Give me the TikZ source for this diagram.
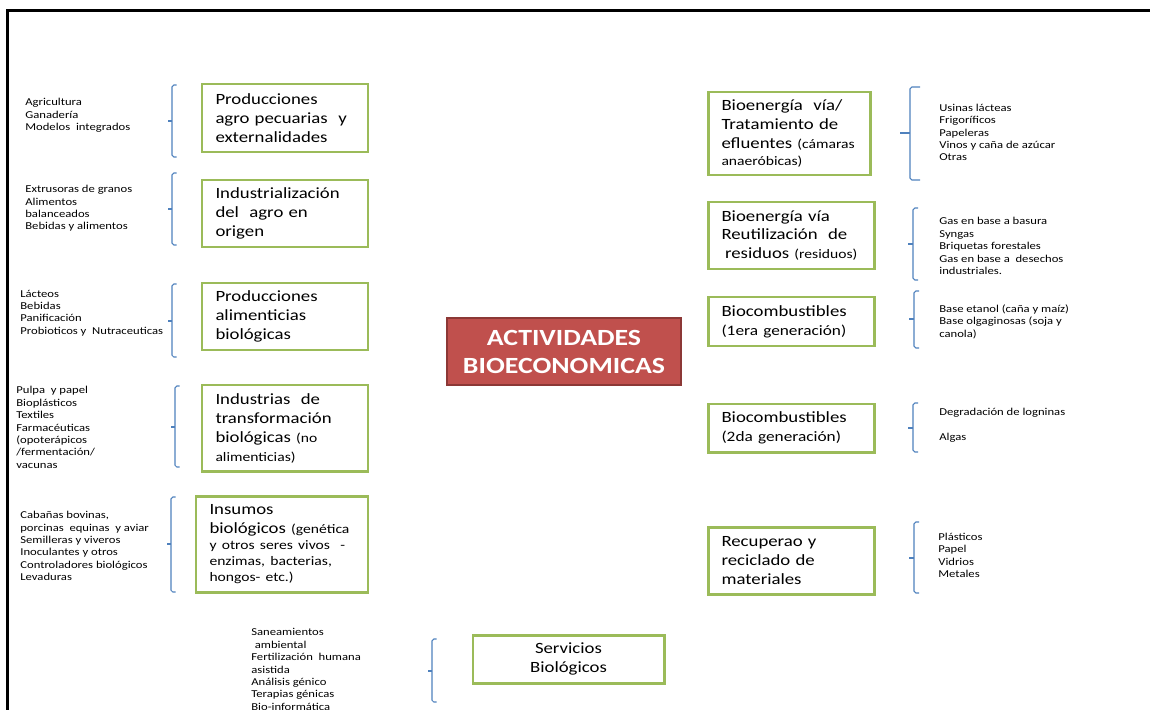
\documentclass[tikz,border=0pt]{standalone}
\usepackage{fontspec}
\setmainfont[FakeStretch=1.2]{Carlito}
\definecolor{verde}{HTML}{9BBB59}
\definecolor{azul}{HTML}{4F81BD}
\definecolor{rojo}{HTML}{C0504D}
\definecolor{rojoosc}{HTML}{8C3836}
\newcommand{\chico}{\fontsize{7.4}{9}\selectfont}
\newcommand{\medio}{\fontsize{8.2}{10}\selectfont}
% x, top, bottom, tick, arm
\newcommand{\Llave}[5]{%
  \draw[brk] (#1+#5,#2) -- (#1,#2) -- (#1,#3) -- (#1+#5,#3);
  \draw[brk] (#1,#4) -- (#1-#5,#4);
}

\begin{document}
\begin{tikzpicture}[x=1cm, y=1cm]

\tikzset{
  act/.style={
    draw=verde,
    line width=1.7pt,
    fill=white,
    align=left,
    inner xsep=0.27cm,
    inner ysep=2pt,
    font=\fontsize{8.9}{10.8}\selectfont
  },
  titulo/.style={
    draw=rojoosc,
    line width=1pt,
    fill=rojo,
    text=white,
    align=center,
    minimum width=4.68cm,
    minimum height=1.34cm,
    font=\bfseries\fontsize{13.2}{15.9}\selectfont
  },
  lista/.style={
    anchor=west,
    align=left,
    inner sep=0pt,
    font=\fontsize{6}{7.05}\selectfont
  },
  brk/.style={
    draw=azul,
    line width=0.6pt,
    rounded corners=1pt
  }
}

\useasboundingbox (0,0) rectangle (23,-14.2);
\draw[line width=1.5pt] (0.15,-14.2) -- (0.15,-0.21) -- (23,-0.21);

% centre
\node[titulo] (bioec) at (11.28,-7.03) {ACTIVIDADES\\BIOECONOMICAS};

% left column
\node[act, text width=2.78cm, minimum height=1.36cm] (agro) at (5.70,-2.36) {%
  Producciones\\ agro pecuarias \ y\\ externalidades};
\node[act, text width=2.78cm, minimum height=1.34cm] (indus) at (5.70,-4.27) {%
  Industrialización\\ del \ agro en\\ origen};
\node[act, text width=2.78cm, minimum height=1.34cm] (alim) at (5.70,-6.33) {%
  Producciones\\ alimenticias\\ biológicas};
\node[act, text width=2.78cm, minimum height=1.72cm] (transf) at (5.70,-8.56) {%
  Industrias \ de\\ transformación\\ biológicas {\chico(no}\\ {\chico alimenticias)}};
\node[act, text width=2.90cm, minimum height=1.92cm] (insumos) at (5.64,-10.88) {%
  Insumos\\ biológicos {\chico(genética}\\[-1.6pt] {\chico y otros seres vivos \ -}\\[-1.6pt]
  {\chico enzimas, bacterias,}\\[-1.6pt] {\chico hongos- etc.)}};
\node[act, align=center, text width=3.28cm, minimum height=0.96cm] (serv) at (11.37,-13.18) {%
  Servicios\\ Biológicos};

% right column
\node[act, text width=2.70cm, minimum height=1.66cm] (efl) at (15.78,-2.67) {%
  Bioenergía \ vía/\\ Tratamiento de\\ efluentes {\chico(cámaras}\\[-1.6pt] {\chico anaeróbicas)}};
\node[act, text width=2.78cm, minimum height=1.34cm] (resid) at (15.82,-4.71) {%
  Bioenergía vía\\ Reutilización \ de\\ \hspace*{2pt}residuos {\chico(residuos)}};
\node[act, text width=2.78cm, minimum height=0.98cm] (bc1) at (15.82,-6.43) {%
  Biocombustibles\\ {\medio(1era generación)}};
\node[act, text width=2.78cm, minimum height=0.96cm] (bc2) at (15.82,-8.56) {%
  Biocombustibles\\ {\medio(2da generación)}};
\node[act, text width=2.78cm, minimum height=1.34cm] (recic) at (15.82,-11.21) {%
  Recuperao y\\ reciclado de\\ materiales};

% lists, left
\node[lista] (l-agro) at (0.50,-2.31) {Agricultura\\ Ganadería\\ Modelos \ integrados};
\node[lista] (l-indus) at (0.50,-4.17) {Extrusoras de granos\\ Alimentos\\ balanceados\\ Bebidas y alimentos};
\node[lista] (l-alim) at (0.40,-6.26) {Lácteos\\ Bebidas\\ Panificación\\ Probioticos y \ Nutraceuticas};
\node[lista] (l-transf) at (0.32,-8.55) {Pulpa \ y papel\\ Bioplásticos\\ Textiles\\ Farmacéuticas\\
  (opoterápicos\\ /fermentación/\\ vacunas};
\node[lista] (l-insumos) at (0.40,-10.92) {Cabañas bovinas,\\ porcinas \ equinas \ y aviar\\
  Semilleras y viveros\\ Inoculantes y otros\\ Controladores biológicos\\ Levaduras};
\node[lista] (l-serv) at (5.02,-13.39) {Saneamientos\\ \hspace*{2pt}ambiental\\ Fertilización \ humana\\
  asistida\\ Análisis génico\\ Terapias génicas\\ Bio-informática};

% lists, right
\node[lista] (l-efl) at (18.78,-2.65) {Usinas lácteas\\ Frigoríficos\\ Papeleras\\ Vinos y caña de azúcar\\ Otras};
\node[lista] (l-resid) at (18.78,-4.92) {Gas en base a basura\\ Syngas\\ Briquetas forestales\\
  Gas en base a \ desechos\\ industriales.};
\node[lista] (l-bc1) at (18.78,-6.43) {Base etanol (caña y maíz)\\ Base olgaginosas (soja y\\ canola)};
\node[lista] (l-bc2) at (18.78,-8.51) {Degradación de logninas\\[7.05pt] Algas};
\node[lista] (l-recic) at (18.76,-11.11) {Plásticos\\ Papel\\ Vidrios\\ Metales};

% braces
\Llave{3.44}{-1.70}{-3.14}{-2.42}{0.09}
\Llave{3.44}{-3.46}{-4.90}{-4.18}{0.09}
\Llave{3.44}{-5.68}{-7.14}{-6.42}{0.09}
\Llave{3.50}{-7.72}{-9.34}{-8.54}{0.09}
\Llave{3.42}{-9.94}{-11.84}{-10.88}{0.09}
\Llave{8.64}{-12.78}{-14.04}{-13.42}{0.09}
\Llave{18.20}{-1.74}{-3.60}{-2.66}{0.20}
\Llave{18.26}{-4.16}{-5.60}{-4.88}{0.10}
\Llave{18.28}{-5.82}{-6.96}{-6.38}{0.10}
\Llave{18.26}{-8.06}{-9.04}{-8.56}{0.10}
\Llave{18.28}{-10.44}{-11.86}{-11.16}{0.10}

\end{tikzpicture}
\end{document}
